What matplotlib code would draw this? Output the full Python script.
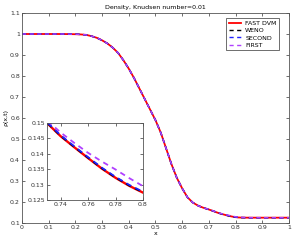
import numpy as np
import matplotlib
matplotlib.use("Agg")
import matplotlib.pyplot as plt

x = [0.0, 0.05, 0.1, 0.15, 0.2, 0.22, 0.24, 0.26, 0.28, 0.30, 0.32, 0.34, 0.36, 0.38,
     0.40, 0.42, 0.44, 0.46, 0.48, 0.50, 0.52, 0.54, 0.56, 0.58, 0.60, 0.62, 0.64,
     0.66, 0.68, 0.70, 0.72, 0.73, 0.74, 0.75, 0.76, 0.77, 0.78, 0.79, 0.80, 0.81,
     0.82, 0.84, 0.86, 0.90, 0.95, 1.0]

rho_fast = [1.0, 1.0, 1.0, 1.0, 0.999, 0.998, 0.996, 0.99, 0.982, 0.97, 0.955, 0.935,
            0.91, 0.875, 0.835, 0.79, 0.74, 0.69, 0.64, 0.59, 0.53, 0.455, 0.38, 0.315,
            0.265, 0.222, 0.197, 0.182, 0.172, 0.164, 0.155, 0.150, 0.1457, 0.1421,
            0.1386, 0.1352, 0.1322, 0.1296, 0.1274, 0.1261, 0.1255, 0.1251, 0.125,
            0.125, 0.125, 0.125]
rho_weno = [1.0, 1.0, 1.0, 1.0, 0.999, 0.998, 0.996, 0.99, 0.982, 0.97, 0.955, 0.935,
            0.91, 0.875, 0.835, 0.79, 0.74, 0.69, 0.64, 0.59, 0.53, 0.455, 0.38, 0.315,
            0.265, 0.222, 0.197, 0.182, 0.172, 0.164, 0.155, 0.1501, 0.1458, 0.1422,
            0.1387, 0.1353, 0.1323, 0.1297, 0.1275, 0.1262, 0.1255, 0.1251, 0.125,
            0.125, 0.125, 0.125]
rho_second = [1.0, 1.0, 1.0, 1.0, 0.999, 0.998, 0.996, 0.99, 0.982, 0.97, 0.955, 0.935,
              0.91, 0.875, 0.835, 0.79, 0.74, 0.69, 0.64, 0.59, 0.53, 0.455, 0.38, 0.315,
              0.265, 0.222, 0.197, 0.182, 0.172, 0.164, 0.1552, 0.1503, 0.1460, 0.1424,
              0.1389, 0.1355, 0.1325, 0.1299, 0.1277, 0.1263, 0.1256, 0.1251, 0.125,
              0.125, 0.125, 0.125]
rho_first = [1.0, 1.0, 1.0, 1.0, 0.999, 0.998, 0.996, 0.99, 0.982, 0.97, 0.955, 0.935,
             0.91, 0.875, 0.835, 0.79, 0.74, 0.69, 0.64, 0.59, 0.53, 0.455, 0.38, 0.315,
             0.265, 0.222, 0.197, 0.182, 0.172, 0.165, 0.1557, 0.1509, 0.1469, 0.1435,
             0.1403, 0.1375, 0.1349, 0.1321, 0.1295, 0.1278, 0.1266, 0.1255, 0.1252,
             0.125, 0.125, 0.125]

labels = ["FAST DVM", "WENO", "SECOND", "FIRST"]
fs = 4.5


def draw(ax, lw):
    ax.plot(x, rho_fast, color="red", lw=lw * 1.3, label=labels[0])
    ax.plot(x, rho_weno, color="black", lw=lw, ls=(0, (3, 2.5)), label=labels[1])
    ax.plot(x, rho_second, color="#2020ff", lw=lw, ls=(0, (3, 2.5)), label=labels[2])
    ax.plot(x, rho_first, color="#b040ff", lw=lw, ls=(0, (3, 2.5)), label=labels[3])


def style(ax):
    ax.tick_params(direction="in", top=True, right=True, labelsize=fs,
                   length=2, width=0.5, pad=1.5, colors="#333333")
    for s in ax.spines.values():
        s.set_linewidth(0.6)
        s.set_color("#555555")


fig = plt.figure(figsize=(2.93, 2.41), dpi=100)
ax = fig.add_axes([0.075, 0.075, 0.911, 0.871])
draw(ax, 1.0)
ax.set_xlim(0, 1)
ax.set_ylim(0.1, 1.1)
ax.set_xticks(np.arange(0, 1.01, 0.1))
ax.set_xticklabels(["0", "0.1", "0.2", "0.3", "0.4", "0.5", "0.6", "0.7", "0.8", "0.9", "1"])
ax.set_yticks(np.arange(0.1, 1.11, 0.1))
ax.set_yticklabels(["0.1", "0.2", "0.3", "0.4", "0.5", "0.6", "0.7", "0.8", "0.9", "1", "1.1"])
style(ax)
ax.set_title("Density, Knudsen number=0.01", fontsize=fs, pad=3)
ax.set_xlabel("x", fontsize=fs, labelpad=1)
ax.set_ylabel("\u03c1(x,t)", fontsize=fs, labelpad=1)
leg = ax.legend(loc="upper right", fontsize=fs, frameon=True, fancybox=False,
                handlelength=2.0, handletextpad=0.6, borderpad=0.4, labelspacing=0.3,
                bbox_to_anchor=(0.975, 0.99))
leg.get_frame().set_edgecolor("black")
leg.get_frame().set_linewidth(0.5)

axin = fig.add_axes([0.160, 0.170, 0.328, 0.320])
draw(axin, 1.3)
axin.set_xlim(0.73, 0.8)
axin.set_ylim(0.125, 0.15)
axin.set_xticks([0.74, 0.76, 0.78, 0.8])
axin.set_xticklabels(["0.74", "0.76", "0.78", "0.8"])
axin.set_yticks([0.125, 0.13, 0.135, 0.14, 0.145, 0.15])
axin.set_yticklabels(["0.125", "0.13", "0.135", "0.14", "0.145", "0.15"])
style(axin)

fig.savefig("out.png", dpi=100)
